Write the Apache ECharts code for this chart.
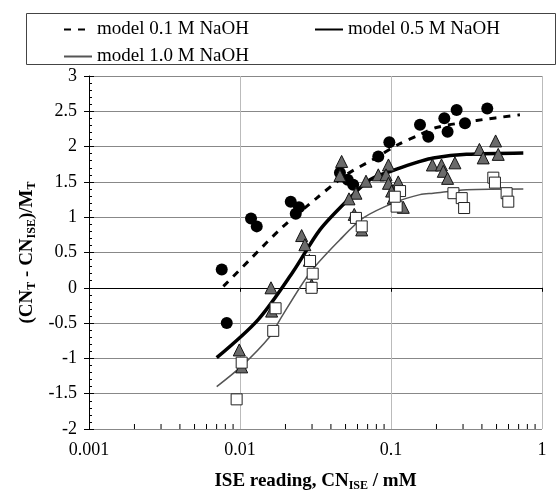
<!DOCTYPE html>
<html><head><meta charset="utf-8">
<script src="https://cdn.jsdelivr.net/npm/echarts@6/dist/echarts.min.js"></script>
<style>html,body{margin:0;padding:0;background:#fff}#c{width:557px;height:497px}</style>
</head><body><div id="c"></div>
<script>
// Measured data (x = ISE reading CN_ISE in mM, y = (CN_T - CN_ISE)/M_T)
var circles01 = [[0.00757,0.26],[0.00817,-0.50],[0.01183,0.98],[0.01291,0.87],[0.02168,1.22],[0.0246,1.14],[0.0234,1.05],[0.0459,1.63],[0.0517,1.53],[0.0562,1.46],[0.0824,1.86],[0.0975,2.06],[0.1556,2.31],[0.1766,2.14],[0.2255,2.40],[0.272,2.52],[0.237,2.21],[0.309,2.33],[0.434,2.54]];
var triangles05 = [[0.00989,-0.88],[0.01026,-1.12],[0.01604,0.0],[0.0162,-0.33],[0.0256,0.74],[0.0269,0.61],[0.0288,0.39],[0.0298,0.04],[0.0471,1.79],[0.0459,1.59],[0.0683,1.51],[0.0824,1.60],[0.0962,1.74],[0.0927,1.60],[0.0962,1.48],[0.1117,1.50],[0.101,1.37],[0.1206,1.14],[0.1035,1.27],[0.0586,1.34],[0.0527,1.26],[0.0571,1.04],[0.064,0.82],[0.493,2.08],[0.385,1.96],[0.408,1.84],[0.513,1.89],[0.188,1.74],[0.216,1.74],[0.265,1.77],[0.222,1.65],[0.237,1.55]];
var squares10 = [[0.0095,-1.58],[0.01026,-1.06],[0.0166,-0.61],[0.0172,-0.29],[0.0291,0.38],[0.0303,0.20],[0.0298,0.0],[0.0586,0.99],[0.064,0.87],[0.1148,1.37],[0.109,1.15],[0.106,1.29],[0.476,1.56],[0.488,1.49],[0.259,1.34],[0.294,1.27],[0.305,1.13],[0.583,1.34],[0.598,1.22]];
var model01 = [[0.00776,0.02],[0.01164,0.40],[0.0189,0.85],[0.0322,1.27],[0.0504,1.60],[0.0764,1.82],[0.1117,2.03],[0.1556,2.17],[0.2,2.27],[0.369,2.37],[0.714,2.45]];
var model05 = [[0.00701,-0.99],[0.0132,-0.45],[0.0225,0.23],[0.0338,0.82],[0.0521,1.25],[0.0726,1.53],[0.109,1.68],[0.1556,1.79],[0.1906,1.84],[0.316,1.89],[0.752,1.91]];
var model10 = [[0.00701,-1.40],[0.01025,-1.11],[0.0158,-0.69],[0.0184,-0.45],[0.029,0.21],[0.0459,0.68],[0.0656,0.99],[0.109,1.22],[0.1556,1.32],[0.1906,1.34],[0.316,1.39],[0.752,1.40]];
var xMinorTicks = [0.002,0.003,0.004,0.005,0.006,0.007,0.008,0.009,0.02,0.03,0.04,0.05,0.06,0.07,0.08,0.09,0.2,0.3,0.4,0.5,0.6,0.7,0.8,0.9];
var seriesNames = ['model 0.1 M NaOH','model 0.5 M NaOH','model 1.0 M NaOH'];

var FONT = 'Liberation Serif';
var chart = echarts.init(document.getElementById('c'), null, {renderer:'canvas'});
var legendCommon = {itemWidth:28,itemHeight:14,
  itemStyle:{color:'rgba(0,0,0,0)',borderColor:'rgba(0,0,0,0)',borderWidth:0,opacity:0},
  textStyle:{fontFamily:FONT,fontSize:19,color:'#000'}};
var opt = {
  animation:false,
  backgroundColor:'#fff',
  textStyle:{fontFamily:FONT,color:'#000'},
  grid:{left:89,right:15,top:76,bottom:67,containLabel:false},
  graphic:[{type:'rect',shape:{x:26.5,y:13.5,width:529,height:51},style:{fill:'none',stroke:'#444',lineWidth:1},silent:true}],
  legend:[
    Object.assign({data:[seriesNames[0],seriesNames[1]],left:58,top:15,itemGap:65},legendCommon),
    Object.assign({data:[seriesNames[2]],left:58,top:42},legendCommon)
  ],
  xAxis:{type:'log',logBase:10,min:0.001,max:1,
    name:'{b|ISE reading, CN}{s|ISE}{b| / mM}',nameLocation:'middle',nameGap:42,
    nameTextStyle:{rich:{b:{fontFamily:FONT,fontWeight:'bold',fontSize:19,color:'#000'},
                         s:{fontFamily:FONT,fontWeight:'bold',fontSize:12,color:'#000',padding:[9,0,0,0]}}},
    axisLine:{lineStyle:{color:'#000',width:1}},
    axisTick:{show:true,inside:false,length:4,lineStyle:{color:'#000'}},
    axisLabel:{fontFamily:FONT,fontSize:18,color:'#000',margin:12,
      formatter:function(v){return String(parseFloat(Number(v).toPrecision(3)));}},
    splitLine:{show:true,lineStyle:{color:'#bbb',width:1}}
  },
  yAxis:[
    {type:'value',min:-2,max:3,interval:0.5,position:'left',
     name:'{b|(CN}{s|T}{b| - CN}{s|ISE}{b|)/M}{s|T}',nameLocation:'middle',nameGap:50,
     nameTextStyle:{rich:{b:{fontFamily:FONT,fontWeight:'bold',fontSize:19,color:'#000'},
                          s:{fontFamily:FONT,fontWeight:'bold',fontSize:12,color:'#000',padding:[9,0,0,0]}}},
     axisLine:{show:true,lineStyle:{color:'#000',width:1}},
     axisTick:{show:true,inside:false,length:5,lineStyle:{color:'#000'}},
     axisLabel:{fontFamily:FONT,fontSize:18,color:'#000',margin:12},
     splitLine:{show:true,lineStyle:{color:'#888',width:1}}},
    {type:'value',min:-2,max:3,interval:0.5,position:'left',offset:0,
     axisLine:{show:false},axisLabel:{show:false},splitLine:{show:false},
     axisTick:{show:true,inside:true,length:5,lineStyle:{color:'#000'}},
     minorTick:{show:true,splitNumber:5,length:3,lineStyle:{color:'#000'}}}
  ],
  series:[
    {name:seriesNames[0],type:'line',data:model01,smooth:0.3,symbol:'none',
     lineStyle:{color:'#000',width:3,type:[7,7]},itemStyle:{color:'#000'},z:2},
    {name:seriesNames[1],type:'line',data:model05,smooth:0.3,symbol:'none',
     lineStyle:{color:'#000',width:3.5},itemStyle:{color:'#000'},z:2},
    {name:seriesNames[2],type:'line',data:model10,smooth:0.3,symbol:'none',
     lineStyle:{color:'#555',width:1.5},itemStyle:{color:'#555'},z:2},
    {name:'data 0.1',type:'scatter',data:circles01,symbol:'circle',symbolSize:12,
     itemStyle:{color:'#000',opacity:1},z:3},
    {name:'data 0.5',type:'scatter',data:triangles05,symbol:'triangle',symbolSize:12,
     itemStyle:{color:'#6a6a6a',borderColor:'#111',borderWidth:1,opacity:1},z:4},
    {name:'data 1.0',type:'scatter',data:squares10,symbol:'rect',symbolSize:11,
     itemStyle:{color:'#fff',borderColor:'#222',borderWidth:1,opacity:1},z:4},
    {name:'minor ticks',type:'custom',silent:true,z:5,
     data:xMinorTicks.map(function(v){return [v,-2];}),
     encode:{x:0,y:1},
     renderItem:function(params,api){
       var p = api.coord([api.value(0),api.value(1)]);
       return {type:'line',shape:{x1:p[0],y1:p[1],x2:p[0],y2:p[1]-5},style:{stroke:'#000',lineWidth:1}};
     }}
  ]
};
chart.setOption(opt);
</script>
</body></html>
